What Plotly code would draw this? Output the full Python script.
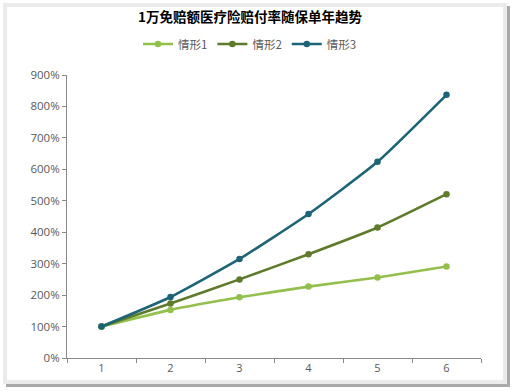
import plotly.graph_objects as go

title_text = "1万免赔额医疗险赔付率随保单年趋势"
years = ["1", "2", "3", "4", "5", "6"]
series_names = ["情形1", "情形2", "情形3"]
case1 = [100, 153, 193, 227, 256, 291]
case2 = [100, 173, 250, 330, 415, 521]
case3 = [100, 194, 315, 458, 624, 837]
y_ticks = [0, 100, 200, 300, 400, 500, 600, 700, 800, 900]
y_tick_labels = [f"{v}%" for v in y_ticks]

colors = ["#93BF4C", "#5E7A2B", "#1E6477"]

W, H = 516, 391
L, R, T, B = 67, 481, 75, 358

def px(x):
    return (x - L) / (R - L)

def py(y):
    return (B - y) / (B - T)

fig = go.Figure()
for name, vals, c in zip(series_names, [case1, case2, case3], colors):
    fig.add_trace(go.Scatter(
        x=years, y=vals, name=name, mode="lines+markers",
        line=dict(color=c, width=2.6, shape="spline", smoothing=0.5),
        marker=dict(color=c, size=6.5),
    ))

shapes = [
    dict(type="rect", xref="paper", yref="paper", layer="below",
         x0=px(6), x1=px(510), y0=py(6), y1=py(387),
         fillcolor="#a9a9a9", line=dict(width=0)),
    dict(type="rect", xref="paper", yref="paper", layer="below",
         x0=px(3), x1=px(507), y0=py(3), y1=py(384),
         fillcolor="#ebebeb", line=dict(width=0)),
    dict(type="rect", xref="paper", yref="paper", layer="below",
         x0=px(7), x1=px(503), y0=py(7), y1=py(380),
         fillcolor="#ffffff", line=dict(width=0)),
]

fig.update_layout(
    width=W, height=H,
    margin=dict(l=L, r=W - R, t=T, b=H - B),
    paper_bgcolor="#ffffff",
    plot_bgcolor="rgba(0,0,0,0)",
    font=dict(family="Open Sans, Noto Sans CJK SC, sans-serif", color="#595959", size=11),
    title=dict(text="<b>" + title_text + "</b>", x=250 / W, xref="container", xanchor="center",
               y=1 - 17 / H, yanchor="middle",
               font=dict(family="Noto Sans CJK SC, sans-serif", size=13.5, color="#000000")),
    legend=dict(orientation="h", x=px(250), xref="paper", xanchor="center",
                y=py(44), yanchor="middle", font=dict(size=11.5, color="#595959",
                family="Noto Sans CJK SC, Open Sans, sans-serif"),
                itemwidth=30, bgcolor="rgba(0,0,0,0)"),
    showlegend=True,
    shapes=shapes,
    xaxis=dict(type="category", range=[-0.5, 5.5], autorange=False,
               tickson="boundaries", ticks="outside", ticklen=4,
               tickcolor="#888888", showline=True, linecolor="#888888", linewidth=1,
               showgrid=False, zeroline=False, tickfont=dict(size=11, color="#595959")),
    yaxis=dict(range=[0, 900], tickvals=y_ticks, ticktext=y_tick_labels, ticks="outside",
               ticklen=4, tickcolor="#888888", showline=True, linecolor="#888888",
               linewidth=1, showgrid=False, zeroline=False,
               tickfont=dict(size=11.5, color="#595959")),
)

fig.write_html("out.html", config={"displayModeBar": False},
               post_script="document.body.style.margin='0';document.body.style.overflow='hidden';")
